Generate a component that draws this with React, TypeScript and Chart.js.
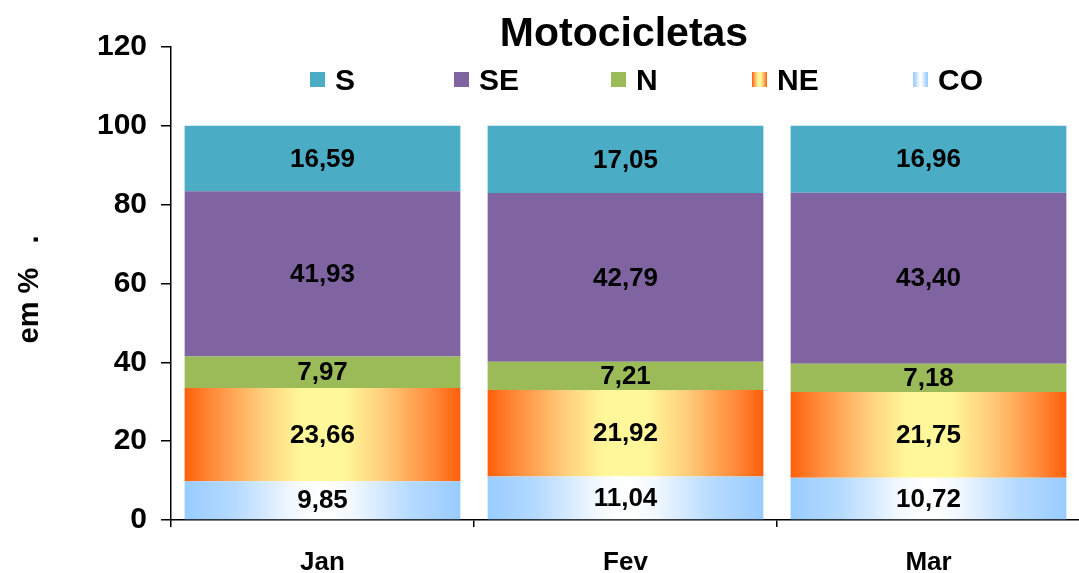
import React, { useEffect, useRef } from 'react';
import { Chart, registerables } from 'chart.js';

Chart.register(...registerables);

// ---------- data ----------
const categories = ['Jan', 'Fev', 'Mar'];
const coValues = [9.85, 11.04, 10.72];
const neValues = [23.66, 21.92, 21.75];
const nValues = [7.97, 7.21, 7.18];
const seValues = [41.93, 42.79, 43.4];
const sValues = [16.59, 17.05, 16.96];
const legendOrder = ['S', 'SE', 'N', 'NE', 'CO'];
const yMin = 0;
const yMax = 120;
const yStep = 20;
const chartTitle = 'Motocicletas';
const yAxisTitle = 'em %   .';

// ---------- styles ----------
const FONT = '"Liberation Sans", Arial, Helvetica, sans-serif';
const BAR_PCT = 0.91;
const legendBoxX = [310, 454, 611, 752, 913];
const solidColors: Record<string, string> = {
  S: '#4BACC6',
  SE: '#8064A2',
  N: '#9BBB59',
  NE: '#FFB060',
  CO: '#CCE5FF',
};
const gradientStops: Record<string, Array<[number, string]>> = {
  NE: [
    [0, '#FF5F0A'],
    [0.1, '#FF8A3A'],
    [0.28, '#FFCE7C'],
    [0.42, '#FFF799'],
    [0.58, '#FFF799'],
    [0.72, '#FFCE7C'],
    [0.9, '#FF8A3A'],
    [1, '#FF5F0A'],
  ],
  CO: [
    [0, '#99CCFF'],
    [0.18, '#B5DAFF'],
    [0.4, '#F4F9FF'],
    [0.5, '#FFFFFF'],
    [0.6, '#F4F9FF'],
    [0.82, '#B5DAFF'],
    [1, '#99CCFF'],
  ],
};

function makeGradient(ctx: CanvasRenderingContext2D, x0: number, x1: number, stops: Array<[number, string]>) {
  const g = ctx.createLinearGradient(x0, 0, x1, 0);
  stops.forEach(([o, c]) => g.addColorStop(o, c));
  return g;
}

function fillFor(name: string) {
  if (!gradientStops[name]) return solidColors[name];
  return (c: any) => {
    const chart = c.chart;
    const xs = chart.scales && chart.scales.x;
    if (!xs || c.dataIndex === undefined || !chart.chartArea) return solidColors[name];
    const center = xs.getPixelForValue(c.dataIndex);
    const half = ((xs.right - xs.left) / categories.length) * BAR_PCT / 2;
    return makeGradient(chart.ctx, center - half, center + half, gradientStops[name]);
  };
}

const valueLabelsPlugin = {
  id: 'valueLabels',
  afterDatasetsDraw(chart: any) {
    const ctx = chart.ctx;
    ctx.save();
    ctx.font = `bold 26px ${FONT}`;
    ctx.fillStyle = '#000';
    ctx.textAlign = 'center';
    ctx.textBaseline = 'middle';
    chart.data.datasets.forEach((ds: any, i: number) => {
      const meta = chart.getDatasetMeta(i);
      meta.data.forEach((el: any, j: number) => {
        const v = ds.data[j] as number;
        ctx.fillText(v.toFixed(2).replace('.', ','), el.x, (el.y + el.base) / 2 + 1);
      });
    });
    ctx.restore();
  },
};

const titleLegendPlugin = {
  id: 'titleLegend',
  afterDraw(chart: any) {
    const ctx = chart.ctx;
    ctx.save();
    // title
    ctx.font = `bold 41px ${FONT}`;
    ctx.fillStyle = '#000';
    ctx.textAlign = 'center';
    ctx.textBaseline = 'alphabetic';
    ctx.fillText(chartTitle, 624, 46);
    // legend
    ctx.font = `bold 30px ${FONT}`;
    ctx.textAlign = 'left';
    const boxY = 72;
    const box = 15;
    legendOrder.forEach((name, i) => {
      const x = legendBoxX[i];
      if (gradientStops[name]) {
        ctx.fillStyle = makeGradient(ctx, x, x + box, gradientStops[name]);
      } else {
        ctx.fillStyle = solidColors[name];
      }
      ctx.fillRect(x, boxY, box, box);
      ctx.fillStyle = '#000';
      ctx.fillText(name, x + 25, 90);
    });
    // y axis title
    const ya = chart.scales.y;
    ctx.translate(30, (ya.top + ya.bottom) / 2 + 6);
    ctx.rotate(-Math.PI / 2);
    ctx.font = `bold 29px ${FONT}`;
    ctx.textAlign = 'center';
    ctx.textBaseline = 'middle';
    ctx.fillText(yAxisTitle, 0, 0);
    ctx.restore();
  },
};

export default function App() {
  const canvasRef = useRef<HTMLCanvasElement | null>(null);

  useEffect(() => {
    if (!canvasRef.current) return;
    Chart.defaults.font.family = FONT;
    const series: Array<[string, number[]]> = [
      ['CO', coValues],
      ['NE', neValues],
      ['N', nValues],
      ['SE', seValues],
      ['S', sValues],
    ];
    const chart = new Chart(canvasRef.current, {
      type: 'bar',
      data: {
        labels: categories,
        datasets: series.map(([name, values]) => ({
          label: name,
          data: values,
          backgroundColor: fillFor(name) as any,
          borderWidth: 0,
          barPercentage: BAR_PCT,
          categoryPercentage: 1,
        })),
      },
      options: {
        animation: false,
        responsive: false,
        events: [],
        layout: { padding: { top: 47, right: 1, left: 0, bottom: 0 } },
        plugins: {
          legend: { display: false },
          title: { display: false },
          tooltip: { enabled: false },
        },
        scales: {
          x: {
            stacked: true,
            grid: {
              offset: true,
              drawOnChartArea: false,
              tickLength: 7,
              color: '#000',
              lineWidth: 1.5,
            },
            border: { color: '#000', width: 1.5 },
            ticks: {
              color: '#000',
              font: { size: 26, weight: 'bold', family: FONT },
              padding: 20,
            },
            afterFit: (s: any) => {
              s.height = 53;
            },
          },
          y: {
            stacked: true,
            min: yMin,
            max: yMax,
            grid: {
              drawOnChartArea: false,
              tickLength: 10,
              color: '#000',
              lineWidth: 1.5,
            },
            border: { color: '#000', width: 1.5 },
            ticks: {
              stepSize: yStep,
              color: '#000',
              font: { size: 30, weight: 'bold', family: FONT },
              padding: 14,
            },
            afterFit: (s: any) => {
              s.width = 171;
            },
          },
        },
      },
      plugins: [valueLabelsPlugin, titleLegendPlugin],
    });
    return () => chart.destroy();
  }, []);

  return (
    <div
      style={{
        position: 'fixed',
        left: 0,
        top: 0,
        width: 1079,
        height: 573,
        overflow: 'hidden',
        background: '#fff',
      }}
    >
      <canvas
        ref={canvasRef}
        width={1081}
        height={573}
        style={{ display: 'block', width: 1081, height: 573 }}
      />
    </div>
  );
}
